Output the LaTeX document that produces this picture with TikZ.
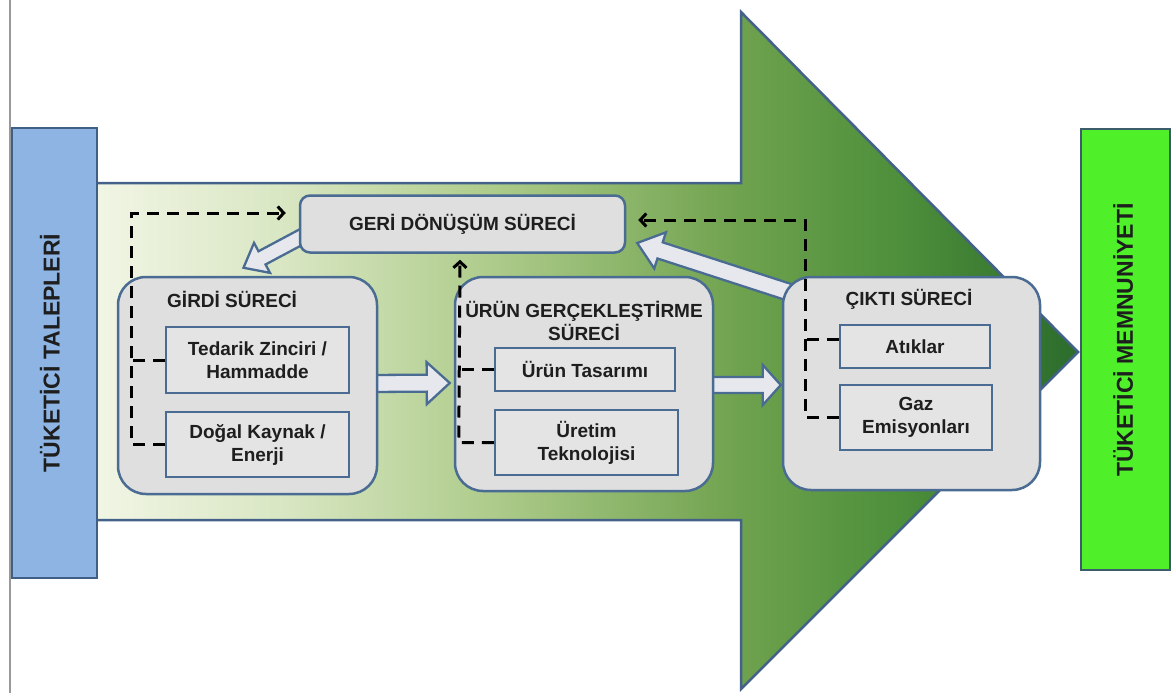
\documentclass[tikz,border=0pt]{standalone}
\usepackage{fontspec}
\setmainfont{Liberation Sans}
\usetikzlibrary{calc,arrows.meta}
\definecolor{bordc}{HTML}{4A6B92}
\definecolor{arrowbord}{HTML}{44618A}
\definecolor{boxfill}{HTML}{DFDFE0}
\definecolor{innerfill}{HTML}{E4E4E4}
\definecolor{fatfill}{HTML}{E6E8EE}
\definecolor{bluefill}{HTML}{8DB4E2}
\definecolor{bluebord}{HTML}{3F5F85}
\definecolor{greenfill}{HTML}{4FF02A}
\definecolor{greenbord}{HTML}{3C5C6C}
\definecolor{txt}{HTML}{1E1E1E}
\definecolor{ga0}{HTML}{F2F6E6}
\definecolor{ga1}{HTML}{D8E6C2}
\definecolor{ga2}{HTML}{ADCB8A}
\definecolor{ga3}{HTML}{6FA24E}
\definecolor{ga4}{HTML}{4D8F3B}
\definecolor{ga5}{HTML}{2C6C2C}
\pgfdeclarehorizontalshading{bigarrow}{100bp}{color(0bp)=(ga0); color(25bp)=(ga0); color(35bp)=(ga1); color(45.5bp)=(ga2); color(57.8bp)=(ga3); color(66bp)=(ga4); color(75bp)=(ga5); color(100bp)=(ga5)}
\pgfdeclarelayer{back}
\pgfdeclarelayer{mid}
\pgfsetlayers{back,mid,main}
\newcommand\fatarrow[5]{%
  \coordinate (fa-a) at #1;
  \coordinate (fa-b) at #2;
  \coordinate (fa-h) at ($(fa-b)!#5!(fa-a)$);
  \draw[fatstyle] ($(fa-a)!#3!90:(fa-b)$) -- ($(fa-h)!#3!90:(fa-b)$) -- ($(fa-h)!#4!90:(fa-b)$) -- (fa-b) -- ($(fa-h)!#4!-90:(fa-b)$) -- ($(fa-h)!#3!-90:(fa-b)$) -- ($(fa-a)!#3!-90:(fa-b)$) -- cycle;}
\tikzset{
  rbox/.style={draw=bordc, line width=2.5pt, fill=boxfill, rounded corners=28pt, inner sep=0pt},
  ibox/.style={draw=bordc, line width=2.5pt, fill=innerfill, inner sep=0pt, align=center, text=txt, font=\fontsize{19}{23}\selectfont\bfseries},
  lbl/.style={inner sep=0pt, align=center, text=txt, font=\fontsize{19}{23}\selectfont\bfseries},
  dashline/.style={draw=black, line width=3pt, dash pattern=on 12pt off 8pt},
  barb/.style={-{Straight Barb[length=6pt,width=13pt]}},
  fatstyle/.style={draw=bordc, line width=2.3pt, fill=fatfill, line join=miter},
  sidebox/.style={line width=2.5pt, inner sep=0pt},
  sidetext/.style={inner sep=0pt, rotate=90, text=txt, font=\fontsize{23}{26}\selectfont\bfseries}
}
\begin{document}
\begin{tikzpicture}[x=1pt,y=-1pt]
\useasboundingbox (0,0) rectangle (1172,693);
\begin{pgfonlayer}{back}
\draw[line width=2pt, draw=gray!80] (10,0) -- (10,693);
\shadedraw[shading=bigarrow, draw=arrowbord, line width=2.5pt, line join=miter]
  (90,183) -- (741,183) -- (741,12) -- (1078,352) -- (741,689) -- (741,520) -- (90,520) -- cycle;
\end{pgfonlayer}
% side boxes
\node[sidebox, draw=bluebord, fill=bluefill, minimum width=85pt, minimum height=450pt] (talep) at (54.5,353) {};
\node[sidetext] (talepT) at (50,353) {TÜKETİCİ TALEPLERİ};
\node[sidebox, draw=greenbord, fill=greenfill, minimum width=89pt, minimum height=441pt] (memnun) at (1125.5,349.5) {};
\node[sidetext] (memnunT) at (1123,340) {TÜKETİCİ MEMNUNİYETİ};
% main boxes
\node[rbox, rounded corners=10pt, minimum width=325pt, minimum height=57pt, lbl] (geri) at (462.5,224) {GERİ DÖNÜŞÜM SÜRECİ};
\node[rbox, minimum width=259pt, minimum height=217pt] (girdi) at (247.5,385.5) {};
\node[lbl, anchor=base west] (girdiT) at (167,307) {GİRDİ SÜRECİ};
\node[ibox, minimum width=183pt, minimum height=66pt] (ted) at (257.5,360) {Tedarik Zinciri /\\Hammadde};
\node[ibox, minimum width=183pt, minimum height=65pt] (dogal) at (257.5,444.5) {Doğal Kaynak /\\Enerji};
\node[rbox, minimum width=258pt, minimum height=214pt] (urun) at (584,384) {};
\node[lbl] (urunT) at (584,321) {ÜRÜN GERÇEKLEŞTİRME\\SÜRECİ};
\node[ibox, minimum width=180pt, minimum height=43pt] (tas) at (585,369.5) {Ürün Tasarımı};
\node[ibox, minimum width=183pt, minimum height=65pt] (uret) at (586.5,442.5) {Üretim\\Teknolojisi};
\node[rbox, minimum width=257pt, minimum height=213pt] (cikti) at (911.5,383.5) {};
\node[lbl, anchor=base] (ciktiT) at (909,305) {ÇIKTI SÜRECİ};
\node[ibox, minimum width=150pt, minimum height=43pt] (atik) at (915,346.5) {Atıklar};
\node[ibox, minimum width=152pt, minimum height=65pt] (gaz) at (916,417.5) {Gaz\\Emisyonları};
% fat arrows
\begin{pgfonlayer}{mid}
\fatarrow{($(geri.west)+(8,10)$)}{($(girdi.north)+(-4,-8)$)}{7.5pt}{17pt}{21pt}
\fatarrow{($(girdi.east)+(-6,-2)$)}{($(urun.west)+(-4,-1)$)}{8.5pt}{21pt}{23pt}
\fatarrow{($(urun.east)+(-6,1)$)}{($(cikti.west)+(-1,1.5)$)}{8pt}{20pt}{18pt}
\fatarrow{($(cikti.north west)+(12,18)$)}{($(geri.east)+(11,19)$)}{8.5pt}{19pt}{24pt}
\end{pgfonlayer}
% dashed feedback lines
\draw[dashline, barb] (dogal.west) -- ++(-33,0) |- ($(geri.west)+(-13,-11)$);
\draw[dashline] (ted.west) -- ++(-33,0);
\draw[dashline, barb] (uret.west) -- ++(-35,0) -- ($(geri.south)+(-2.5,6)$);
\draw[dashline] (tas.west) -- ++(-35,0);
\draw[dashline, barb] (gaz.west) -- ++(-33,0) |- ($(geri.east)+(12,-4)$);
\draw[dashline] ([yshift=7pt]atik.west) -- ++(-33,0);
\end{tikzpicture}
\end{document}
